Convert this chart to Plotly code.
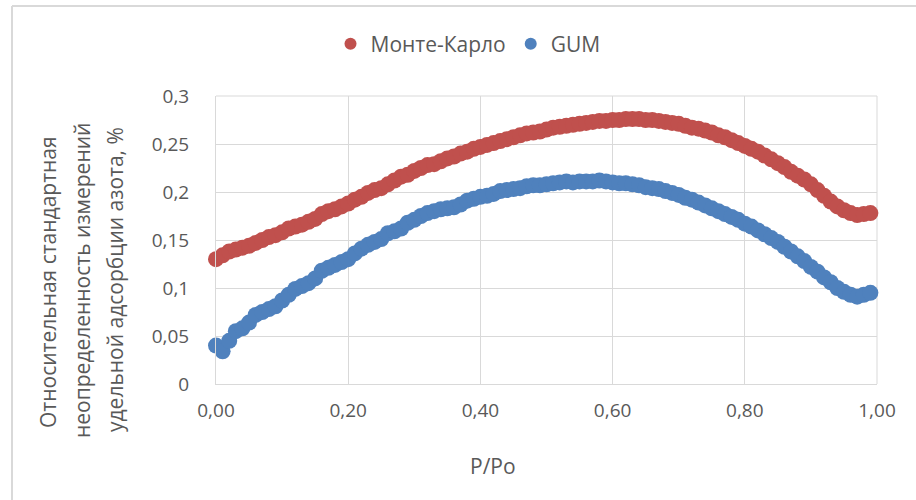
import plotly.graph_objects as go

x_vals = [round(i * 0.01, 2) for i in range(100)]

monte_carlo = [
    0.130, 0.134, 0.138, 0.140, 0.142, 0.144, 0.147, 0.150, 0.153, 0.155,
    0.158, 0.162, 0.164, 0.166, 0.169, 0.172, 0.177, 0.180, 0.182, 0.185,
    0.188, 0.192, 0.195, 0.199, 0.202, 0.204, 0.208, 0.212, 0.216, 0.218,
    0.222, 0.225, 0.228, 0.229, 0.232, 0.235, 0.237, 0.240, 0.242, 0.245,
    0.247, 0.249, 0.251, 0.253, 0.255, 0.257, 0.259, 0.261, 0.262, 0.263,
    0.265, 0.267, 0.268, 0.269, 0.270, 0.271, 0.272, 0.273, 0.274, 0.274,
    0.275, 0.275, 0.276, 0.276, 0.276, 0.275, 0.275, 0.274, 0.273, 0.272,
    0.271, 0.269, 0.267, 0.266, 0.264, 0.262, 0.259, 0.257, 0.254, 0.251,
    0.248, 0.245, 0.242, 0.238, 0.234, 0.230, 0.226, 0.221, 0.217, 0.213,
    0.208, 0.202, 0.196, 0.190, 0.185, 0.181, 0.178, 0.176, 0.177, 0.178,
]

gum = [
    0.040, 0.034, 0.045, 0.055, 0.058, 0.064, 0.072, 0.075, 0.078, 0.081,
    0.087, 0.093, 0.099, 0.102, 0.105, 0.110, 0.118, 0.121, 0.124, 0.127,
    0.130, 0.136, 0.141, 0.145, 0.148, 0.151, 0.157, 0.159, 0.162, 0.168,
    0.171, 0.175, 0.178, 0.180, 0.182, 0.183, 0.184, 0.187, 0.191, 0.193,
    0.195, 0.196, 0.198, 0.201, 0.202, 0.203, 0.204, 0.206, 0.207, 0.207,
    0.208, 0.209, 0.210, 0.211, 0.210, 0.211, 0.211, 0.211, 0.212, 0.211,
    0.210, 0.209, 0.209, 0.208, 0.207, 0.205, 0.204, 0.203, 0.201, 0.199,
    0.197, 0.194, 0.192, 0.189, 0.186, 0.183, 0.180, 0.177, 0.174, 0.171,
    0.167, 0.164, 0.160, 0.156, 0.152, 0.148, 0.143, 0.138, 0.133, 0.128,
    0.122, 0.117, 0.111, 0.106, 0.100, 0.096, 0.093, 0.091, 0.093, 0.095,
]

series_names = ["Монте-Карло", "GUM"]
series_colors = ["#C0504D", "#4F81BD"]

x_tickvals = [0, 0.2, 0.4, 0.6, 0.8, 1.0]
x_ticktext = ["0,00", "0,20", "0,40", "0,60", "0,80", "1,00"]
y_tickvals = [0, 0.05, 0.1, 0.15, 0.2, 0.25, 0.3]
y_ticktext = ["0", "0,05", "0,1", "0,15", "0,2", "0,25", "0,3"]

x_title = "P/Po"
y_title_lines = [
    "Относительная стандартная",
    "неопределенность измерений",
    "удельной адсорбции азота, %",
]

FONT = "Open Sans"
TXT = "#595959"
GRID = "#D9D9D9"
TICK_SIZE = 19
LEGEND_SIZE = 21
TITLE_SIZE = 21

fig = go.Figure()
for name, ys, col in zip(series_names, [monte_carlo, gum], series_colors):
    fig.add_trace(go.Scatter(
        x=x_vals, y=ys, mode="markers", name=name,
        marker=dict(color=col, size=16, line=dict(width=0)),
        cliponaxis=False,
    ))

L, R, T, B = 216, 39, 96, 116
W, H = 916, 500
pw = W - L - R
ph = H - T - B

def px_x(p):
    return (p - L) / pw

def px_y(p):
    return (H - B - p) / ph

annotations = [
    dict(text=x_title, xref="paper", yref="paper", x=px_x(493), y=px_y(466),
         showarrow=False, xanchor="center", yanchor="middle",
         font=dict(family=FONT, size=TITLE_SIZE, color=TXT)),
]
for line, xp, yp in zip(y_title_lines, [48, 82, 115], [282, 281, 280]):
    annotations.append(dict(
        text=line, xref="paper", yref="paper", x=px_x(xp), y=px_y(yp),
        showarrow=False, xanchor="center", yanchor="middle", textangle=-90,
        font=dict(family=FONT, size=TITLE_SIZE, color=TXT)))

fig.update_layout(
    width=W, height=H,
    margin=dict(l=L, r=R, t=T, b=B, pad=0),
    paper_bgcolor="white", plot_bgcolor="white",
    font=dict(family=FONT, color=TXT, size=TICK_SIZE),
    showlegend=True,
    legend=dict(
        orientation="h", x=px_x(468), xanchor="center", y=px_y(44), yanchor="middle",
        font=dict(family=FONT, size=LEGEND_SIZE, color=TXT), itemsizing="constant",
        bgcolor="rgba(0,0,0,0)", itemwidth=30, traceorder="normal",
    ),
    xaxis=dict(
        range=[0, 1], tickvals=x_tickvals, ticktext=x_ticktext,
        showgrid=True, gridcolor=GRID, gridwidth=1,
        zeroline=False, showline=True, linecolor=GRID, linewidth=1,
        ticks="outside", ticklen=9, tickcolor="rgba(0,0,0,0)",
        tickfont=dict(family=FONT, size=TICK_SIZE, color=TXT),
        fixedrange=True,
    ),
    yaxis=dict(
        range=[0, 0.3], tickvals=y_tickvals, ticktext=y_ticktext,
        showgrid=True, gridcolor=GRID, gridwidth=1,
        zeroline=False, showline=True, linecolor=GRID, linewidth=1,
        ticks="outside", ticklen=22, tickcolor="rgba(0,0,0,0)",
        tickfont=dict(family=FONT, size=TICK_SIZE, color=TXT),
        fixedrange=True,
    ),
    shapes=[
        dict(type="line", xref="paper", yref="paper",
             x0=px_x(12), x1=px_x(930), y0=px_y(6), y1=px_y(6),
             line=dict(color=GRID, width=2)),
        dict(type="line", xref="paper", yref="paper",
             x0=px_x(12), x1=px_x(12), y0=px_y(6), y1=px_y(520),
             line=dict(color=GRID, width=2)),
        dict(type="line", xref="paper", yref="paper",
             x0=1, x1=1, y0=0, y1=1, line=dict(color=GRID, width=1), layer="below"),
        dict(type="line", xref="paper", yref="paper",
             x0=0, x1=1, y0=1, y1=1, line=dict(color=GRID, width=1), layer="below"),
    ],
    annotations=annotations,
)

fig.write_html("out.html")
